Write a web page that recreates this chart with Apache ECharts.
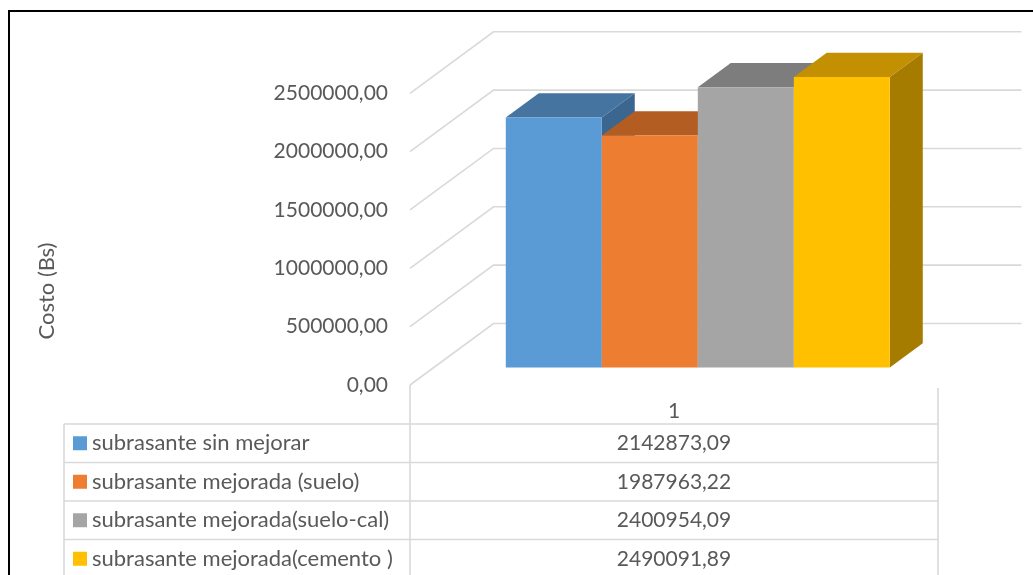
<!DOCTYPE html>
<html>
<head>
<meta charset="utf-8">
<title>Costo (Bs)</title>
<script src="https://cdn.jsdelivr.net/npm/echarts@6/dist/echarts.min.js"></script>
<style>
  html, body { margin: 0; padding: 0; background: #ffffff; }
  #chart { width: 1033px; height: 575px; }
</style>
</head>
<body>
<div id="chart"></div>
<script>
// ---- data ----
const categories = ['1'];
const seriesNames = [
  'subrasante sin mejorar',
  'subrasante mejorada (suelo)',
  'subrasante mejorada(suelo-cal)',
  'subrasante mejorada(cemento )'
];
const seriesValues = [2142873.09, 1987963.22, 2400954.09, 2490091.89];
const yTicks = [0, 500000, 1000000, 1500000, 2000000, 2500000];
const yTitle = 'Costo (Bs)';

// ---- palette: front, top and right-side faces of each box ----
const frontColors = ['#5b9bd5', '#ed7d31', '#a5a5a5', '#ffc000'];
const topColors   = ['#44749f', '#b35d22', '#7d7d7d', '#c29000'];
const sideColors  = ['#3b6690', '#9e5220', '#6e6e6e', '#a67c00'];

// ---- layout ----
const FONT = 'Lato, "Open Sans", sans-serif';
const NUM_SIZE = 21, NAME_SIZE = 22;
const TEXT = '#595959';
const GRID = '#d9d9d9';
const PLOT_LEFT = 410, PLOT_RIGHT = 938, PLOT_TOP = 93.3, PLOT_BOTTOM = 385;
const DEPTH_X = 83.5, DEPTH_Y = 61.5;      // oblique offset of the back wall
const BOX_Z0 = 0.285, BOX_Z1 = 0.68;       // depth span of the boxes
const BAR_FRAC = 96 / 528;                 // box width as share of the band
const TABLE_TOP = 424, ROW_H = 38.5, TABLE_LEFT = 64;

const fmt = v => v.toFixed(2).replace('.', ',');

const chart = echarts.init(document.getElementById('chart'), null, { renderer: 'canvas' });

// back wall + left wall grid lines
const wallSeries = {
  type: 'custom',
  silent: true,
  z: 1,
  data: yTicks.map(v => [0, v]),
  encode: { x: 0, y: 1 },
  renderItem: function (params, api) {
    const cs = params.coordSys;
    const y = api.coord([0, api.value(1)])[1];
    return {
      type: 'polyline',
      shape: { points: [[cs.x, y], [cs.x + DEPTH_X, y - DEPTH_Y], [cs.x + cs.width + DEPTH_X, y - DEPTH_Y]] },
      style: { stroke: GRID, lineWidth: 1.6, fill: null }
    };
  }
};

// one 3D box per series
const boxSeries = seriesValues.map((val, i) => ({
  type: 'custom',
  name: seriesNames[i],
  z: 2,
  data: [[0, val]],
  encode: { x: 0, y: 1 },
  renderItem: function (params, api) {
    const top = api.coord([0, api.value(1)]);
    const base = api.coord([0, 0]);
    const band = api.size([1, 0])[0];
    const bw = band * BAR_FRAC;
    const fx = top[0] - 2 * bw + i * bw + BOX_Z0 * DEPTH_X;
    const fdy = BOX_Z0 * DEPTH_Y;
    const ddx = (BOX_Z1 - BOX_Z0) * DEPTH_X;
    const ddy = (BOX_Z1 - BOX_Z0) * DEPTH_Y;
    const yT = top[1] - fdy, yB = base[1] - fdy;
    return {
      type: 'group',
      children: [
        { type: 'polygon', shape: { points: [[fx + bw, yT], [fx + bw + ddx, yT - ddy], [fx + bw + ddx, yB - ddy], [fx + bw, yB]] },
          style: { fill: sideColors[i] } },
        { type: 'polygon', shape: { points: [[fx, yT], [fx + ddx, yT - ddy], [fx + bw + ddx, yT - ddy], [fx + bw, yT]] },
          style: { fill: topColors[i] } },
        { type: 'rect', shape: { x: fx, y: yT, width: bw, height: yB - yT },
          style: { fill: frontColors[i] } }
      ]
    };
  }
}));

// data table under the plot
const tableGraphics = [];
const line = (x1, y1, x2, y2) => ({
  type: 'line', silent: true,
  shape: { x1, y1, x2, y2 },
  style: { stroke: GRID, lineWidth: 1.6 }
});
tableGraphics.push(line(PLOT_LEFT, PLOT_BOTTOM, PLOT_LEFT, 600));
tableGraphics.push(line(PLOT_RIGHT, PLOT_BOTTOM + 3, PLOT_RIGHT, 600));
tableGraphics.push(line(TABLE_LEFT, TABLE_TOP, TABLE_LEFT, 600));
for (let r = 0; r <= seriesNames.length; r++) {
  const y = TABLE_TOP + r * ROW_H;
  tableGraphics.push(line(TABLE_LEFT, y, PLOT_RIGHT, y));
}
seriesNames.forEach((name, r) => {
  const yc = TABLE_TOP + r * ROW_H + ROW_H / 2;
  tableGraphics.push({ type: 'rect', silent: true, shape: { x: 73, y: yc - 7, width: 14, height: 14 },
    style: { fill: frontColors[r] } });
  tableGraphics.push({ type: 'text', silent: true, x: 92, y: yc,
    style: { text: name, font: NAME_SIZE + 'px ' + FONT, fill: TEXT, textAlign: 'left', textVerticalAlign: 'middle' } });
  tableGraphics.push({ type: 'text', silent: true, x: (PLOT_LEFT + PLOT_RIGHT) / 2, y: yc,
    style: { text: fmt(seriesValues[r]), font: NUM_SIZE + 'px ' + FONT, fill: TEXT, textAlign: 'center', textVerticalAlign: 'middle' } });
});

const option = {
  animation: false,
  backgroundColor: '#ffffff',
  grid: { left: PLOT_LEFT, right: 1033 - PLOT_RIGHT, top: PLOT_TOP, bottom: 575 - PLOT_BOTTOM },
  xAxis: {
    type: 'category',
    data: categories,
    axisLine: { show: false },
    axisTick: { show: false },
    splitLine: { show: false },
    axisLabel: { margin: 16, fontSize: NUM_SIZE, color: TEXT, fontFamily: FONT }
  },
  yAxis: {
    type: 'value',
    min: yTicks[0],
    max: yTicks[yTicks.length - 1],
    interval: yTicks[1] - yTicks[0],
    axisLine: { show: false },
    axisTick: { show: false },
    splitLine: { show: false },
    axisLabel: { margin: 22, fontSize: NUM_SIZE, color: TEXT, fontFamily: FONT, formatter: fmt }
  },
  graphic: [
    { type: 'rect', silent: true, shape: { x: 9, y: 11, width: 1200, height: 800 },
      style: { fill: null, stroke: '#000000', lineWidth: 2 } },
    { type: 'text', silent: true, x: 47, y: 291, rotation: Math.PI / 2,
      style: { text: yTitle, font: NAME_SIZE + 'px ' + FONT, fill: TEXT, textAlign: 'center', textVerticalAlign: 'middle' } }
  ].concat(tableGraphics),
  series: [wallSeries].concat(boxSeries)
};

chart.setOption(option);
</script>
</body>
</html>
